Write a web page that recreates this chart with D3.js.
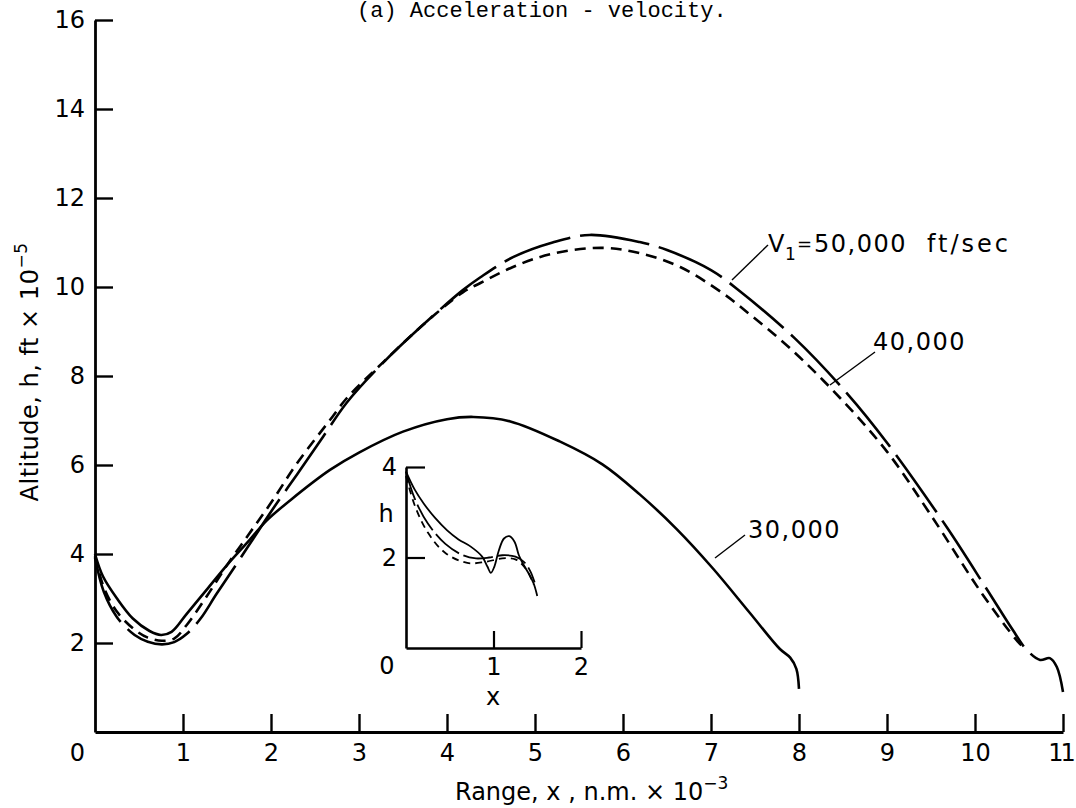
<!DOCTYPE html>
<html>
<head>
<meta charset="utf-8">
<script src="https://cdn.jsdelivr.net/npm/d3@7"></script>
<style>
  html, body { margin: 0; padding: 0; background: #fff; }
  svg { display: block; }
  text { font-family: "DejaVu Sans", sans-serif; fill: #000; }
</style>
</head>
<body>
<svg id="chart" width="1076" height="808"></svg>
<script>
// Trajectories: range x (n.m. x 10^-3) vs altitude h (ft x 10^-5)
const v50000 = [[0,3.92],[0.1,3.15],[0.25,2.58],[0.45,2.18],[0.6,2.03],[0.76,1.97],[0.9,2.02],[1.04,2.2],[1.2,2.55],[1.38,3.1],[1.6,3.75],[1.8,4.35],[2.0,4.95],[2.3,5.8],[2.59,6.63],[2.86,7.4],[3.27,8.29],[3.7,9.1],[4.18,9.93],[4.38,10.22],[4.75,10.67],[5.2,11.0],[5.62,11.17],[6.19,11.01],[6.5,10.83],[7.0,10.38],[7.3,9.95],[7.95,8.85],[8.55,7.6],[9.0,6.5],[9.68,4.6],[10.14,3.19],[10.43,2.29],[10.59,1.84],[10.74,1.62],[10.85,1.66],[10.93,1.46],[11.0,0.9]];
const v40000 = [[0,3.95],[0.1,3.25],[0.25,2.7],[0.45,2.3],[0.6,2.12],[0.76,2.05],[0.9,2.1],[1.04,2.4],[1.27,3.05],[1.5,3.75],[1.75,4.45],[2.0,5.15],[2.3,6.05],[2.67,7.01],[2.86,7.5],[3.27,8.3],[3.7,9.1],[4.18,9.88],[4.38,10.09],[4.75,10.45],[5.2,10.75],[5.77,10.88],[6.19,10.76],[6.65,10.45],[7.14,9.85],[7.4,9.45],[7.9,8.62],[8.47,7.5],[9.0,6.3],[9.49,4.9],[10.09,3.08],[10.47,2.07],[10.58,1.84]];
const v30000 = [[0,4.0],[0.09,3.5],[0.25,3.0],[0.43,2.55],[0.62,2.27],[0.75,2.18],[0.87,2.25],[1.04,2.65],[1.27,3.2],[1.5,3.75],[1.75,4.3],[1.95,4.75],[2.22,5.21],[2.67,5.89],[3.0,6.28],[3.5,6.75],[4.0,7.03],[4.3,7.08],[4.72,6.98],[5.28,6.53],[5.77,6.01],[6.19,5.34],[6.61,4.56],[7.02,3.68],[7.44,2.68],[7.78,1.87],[7.9,1.67],[7.97,1.42],[8.0,0.97]];

// Inset: early part of the trajectories
const insetSolid = [[0,3.9],[0.1,3.5],[0.2,3.2],[0.33,2.88],[0.47,2.6],[0.6,2.4],[0.74,2.24],[0.87,2.02],[0.93,1.8],[0.97,1.66],[1.01,1.8],[1.06,2.15],[1.12,2.42],[1.18,2.47],[1.24,2.35],[1.29,2.05],[1.34,1.85],[1.41,1.62],[1.46,1.42],[1.5,1.15]];
const insetLong = [[0,3.9],[0.1,3.3],[0.25,2.75],[0.45,2.3],[0.65,2.05],[0.8,1.98],[0.95,2.0],[1.1,2.05],[1.25,2.02],[1.35,1.9],[1.42,1.7],[1.47,1.45]];
const insetShort = [[0,3.8],[0.1,3.15],[0.25,2.55],[0.45,2.1],[0.7,1.88],[0.9,1.9],[1.1,1.98],[1.25,1.96],[1.35,1.8],[1.42,1.58],[1.46,1.4]];

const xTicks = [0,1,2,3,4,5,6,7,8,9,10,11];
const yTicks = [2,4,6,8,10,12,14,16];
const insetXTicks = [1,2];
const insetYTicks = [2,4];

const svg = d3.select("#chart");

const x = d3.scaleLinear().domain([0, 11]).range([95, 1063]);
const y = d3.scaleLinear().domain([0, 16]).range([732, 20]);

const line = (sx, sy) => d3.line()
  .x(d => sx(d[0])).y(d => sy(d[1]))
  .curve(d3.curveCatmullRom.alpha(0.5));

// Title
svg.append("text")
  .attr("x", 357).attr("y", 17)
  .style("font-family", "'Liberation Mono', 'DejaVu Sans Mono', monospace")
  .style("font-size", "22px")
  .text("(a) Acceleration - velocity.");

// Axes
const gx = svg.append("g").attr("transform", `translate(0,${y(0)})`)
  .call(d3.axisBottom(x).tickValues(xTicks).tickSize(-18).tickSizeOuter(0).tickPadding(12).tickFormat(d3.format("d")));
const gy = svg.append("g").attr("transform", `translate(${x(0)},0)`)
  .call(d3.axisLeft(y).tickValues(yTicks).tickSize(-18).tickSizeOuter(0).tickPadding(10).tickFormat(d3.format("d")));

[gx, gy].forEach(g => {
  g.select(".domain").attr("stroke", "#000").attr("stroke-width", 2.8);
  g.selectAll(".tick line").attr("stroke", "#000").attr("stroke-width", 2.4);
  g.selectAll(".tick text").style("font-size", "24px").style("font-family", "'DejaVu Sans', sans-serif").attr("fill", "#000");
});
gx.selectAll(".tick").filter(d => d === 0).select("line").remove();
gx.selectAll(".tick").filter(d => d === 0).select("text").attr("x", -18);
gx.selectAll(".tick").filter(d => d === 11).select("text")
  .attr("x", -3).style("letter-spacing", "-3px");

// Axis titles
const xt = svg.append("text").attr("x", 455).attr("y", 800).style("font-size", "24px");
xt.append("tspan").text("Range, x , n.m. × 10");
xt.append("tspan").attr("dy", -11).style("font-size", "17px").text("−3");

const yt = svg.append("text")
  .attr("transform", "translate(38,372) rotate(-90)")
  .attr("text-anchor", "middle").style("font-size", "24px").style("letter-spacing", "0.5px");
yt.append("tspan").text("Altitude, h, ft × 10");
yt.append("tspan").attr("dy", -11).style("font-size", "17px").text("−5");

// Main curves
const mainLine = line(x, y);
svg.append("path").datum(v30000).attr("d", mainLine)
  .attr("fill", "none").attr("stroke", "#000").attr("stroke-width", 2.6);
svg.append("path").datum(v40000).attr("d", mainLine)
  .attr("fill", "none").attr("stroke", "#000").attr("stroke-width", 2.6)
  .attr("stroke-dasharray", "11,7");
svg.append("path").datum(v50000).attr("d", mainLine)
  .attr("fill", "none").attr("stroke", "#000").attr("stroke-width", 2.6)
  .attr("stroke-dasharray", "70,10");

// Curve labels with leader lines
const leader = (x1, y1, x2, y2) => svg.append("line")
  .attr("x1", x1).attr("y1", y1).attr("x2", x2).attr("y2", y2)
  .attr("stroke", "#000").attr("stroke-width", 1.4);

leader(732, 280, 768, 245);
svg.append("text").attr("x", 768).attr("y", 252).style("font-size", "24px").text("V");
svg.append("text").attr("x", 785).attr("y", 260).style("font-size", "17px").text("1");
svg.append("text").attr("x", 797).attr("y", 250).style("font-size", "18px").text("=");
svg.append("text").attr("x", 814).attr("y", 252).style("font-size", "24px").style("letter-spacing", "1.5px").text("50,000");
svg.append("text").attr("x", 927).attr("y", 252).style("font-size", "24px").style("letter-spacing", "3px").text("ft/sec");

leader(830, 385, 875, 352);
svg.append("text").attr("x", 873).attr("y", 350).style("font-size", "24px").style("letter-spacing", "1.5px").text("40,000");

leader(715, 558, 745, 535);
svg.append("text").attr("x", 748).attr("y", 538).style("font-size", "24px").style("letter-spacing", "1.5px").text("30,000");

// Inset
const xi = d3.scaleLinear().domain([0, 2]).range([406, 581]);
const yi = d3.scaleLinear().domain([0, 4]).range([648, 467]);

const gxi = svg.append("g").attr("transform", `translate(0,${yi(0)})`)
  .call(d3.axisBottom(xi).tickValues(insetXTicks).tickSize(-17).tickSizeOuter(0).tickPadding(10).tickFormat(d3.format("d")));
const gyi = svg.append("g").attr("transform", `translate(${xi(0)},0)`)
  .call(d3.axisLeft(yi).tickValues(insetYTicks).tickSize(-19).tickSizeOuter(0).tickPadding(9).tickFormat(d3.format("d")));
[gxi, gyi].forEach(g => {
  g.select(".domain").attr("stroke", "#000").attr("stroke-width", 2.6);
  g.selectAll(".tick line").attr("stroke", "#000").attr("stroke-width", 2.2);
  g.selectAll(".tick text").style("font-size", "24px").style("font-family", "'DejaVu Sans', sans-serif").attr("fill", "#000");
});
svg.append("text").attr("x", xi(0) - 19).attr("y", yi(0)).attr("dy", "1.1em")
  .attr("text-anchor", "middle").style("font-size", "24px").text("0");
svg.append("text").attr("x", 493).attr("y", 705).attr("text-anchor", "middle").style("font-size", "24px").text("x");
svg.append("text").attr("x", 386).attr("y", 522).attr("text-anchor", "middle").style("font-size", "24px").text("h");

const insetLine = line(xi, yi);
svg.append("path").datum(insetSolid).attr("d", insetLine)
  .attr("fill", "none").attr("stroke", "#000").attr("stroke-width", 1.8);
svg.append("path").datum(insetLong).attr("d", insetLine)
  .attr("fill", "none").attr("stroke", "#000").attr("stroke-width", 1.8)
  .attr("stroke-dasharray", "30,5");
svg.append("path").datum(insetShort).attr("d", insetLine)
  .attr("fill", "none").attr("stroke", "#000").attr("stroke-width", 1.8)
  .attr("stroke-dasharray", "7,5");
</script>
</body>
</html>
